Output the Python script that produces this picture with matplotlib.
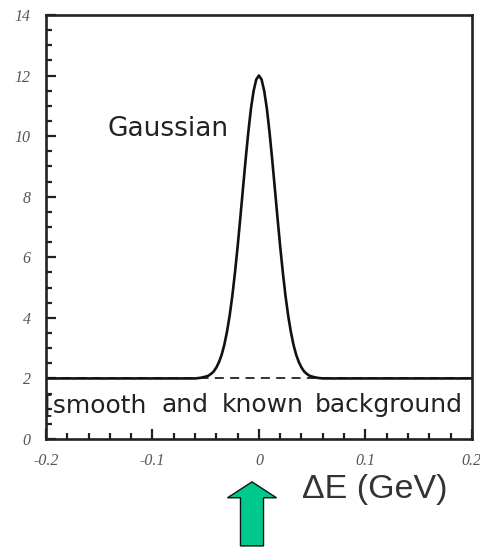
import matplotlib
matplotlib.use("Agg")
import matplotlib.pyplot as plt
from matplotlib.patches import FancyArrow
from matplotlib.ticker import MultipleLocator

# values
delta_e = [-0.2, -0.06, -0.055, -0.05, -0.0475, -0.045, -0.0425, -0.04,
           -0.0375, -0.035, -0.0325, -0.03, -0.0275, -0.025, -0.0225,
           -0.02, -0.0175, -0.015, -0.0125, -0.01, -0.0075, -0.005,
           -0.0025, 0.0, 0.0025, 0.005, 0.0075, 0.01, 0.0125, 0.015,
           0.0175, 0.02, 0.0225, 0.025, 0.0275, 0.03, 0.0325, 0.035,
           0.0375, 0.04, 0.0425, 0.045, 0.0475, 0.05, 0.055, 0.06, 0.2]
counts = [2.0, 2.0, 2.02, 2.06, 2.09, 2.15, 2.23, 2.36,
          2.54, 2.78, 3.11, 3.54, 4.07, 4.72, 5.49,
          6.35, 7.29, 8.26, 9.22, 10.12, 10.90, 11.49,
          11.87, 12.0, 11.87, 11.49, 10.90, 10.12, 9.22, 8.26,
          7.29, 6.35, 5.49, 4.72, 4.07, 3.54, 3.11, 2.78,
          2.54, 2.36, 2.23, 2.15, 2.09, 2.06, 2.02, 2.0, 2.0]
background_x = [-0.2, 0.2]
background_y = [2.0, 2.0]

xticks = [-0.2, -0.1, 0, 0.1, 0.2]
xtick_labels = ["-0.2", "-0.1", "0", "0.1", "0.2"]
yticks = [0, 2, 4, 6, 8, 10, 12, 14]

# words of the background note and where each one starts
bg_words = ["[smooth", "and", "known", "background"]
bg_word_x = [-0.2019, -0.0911, -0.0347, 0.0526]

fig = plt.figure(figsize=(4.8, 5.47), dpi=100)
ax = fig.add_axes([0.0958, 0.1974, 0.8872, 0.7752])

ax.plot(background_x, background_y, color="#222222", lw=1.3,
        ls=(0, (5, 3.5)))
ax.plot(delta_e, counts, color="#111111", lw=1.9, solid_joinstyle="round")

ax.set_xlim(-0.2, 0.2)
ax.set_ylim(0, 14)

ax.set_xticks(xticks)
ax.set_xticklabels(xtick_labels)
ax.set_yticks(yticks)
ax.set_yticklabels([str(v) for v in yticks])
ax.xaxis.set_minor_locator(MultipleLocator(0.02))
ax.yaxis.set_minor_locator(MultipleLocator(0.5))

ax.tick_params(which="both", direction="in", top=False, right=False,
               width=1.6, color="#222222")
ax.tick_params(which="major", length=7)
ax.tick_params(which="minor", length=4)
ax.tick_params(axis="y", pad=11)
ax.tick_params(axis="x", pad=10)
for lab in ax.get_xticklabels() + ax.get_yticklabels():
    lab.set_fontfamily("Liberation Serif")
    lab.set_fontstyle("italic")
    lab.set_fontsize(11.5)
    lab.set_color("#555555")

for sp in ax.spines.values():
    sp.set_linewidth(1.9)
    sp.set_color("#222222")

ax.text(-0.142, 10.25, "Gaussian", fontsize=19, color="#222222",
        family="DejaVu Sans", va="center", ha="left")
for word, wx in zip(bg_words, bg_word_x):
    ax.text(wx, 1.12, word, fontsize=18, color="#222222",
            family="DejaVu Sans", va="center", ha="left")

fig.text(0.629, 0.106, "\u0394E (GeV)", fontsize=24.5, color="#333333",
         family="Liberation Sans", va="center", ha="left")

arrow = FancyArrow(0.525, 0.002, 0, 0.117, width=0.048,
                   head_width=0.102, head_length=0.029,
                   length_includes_head=True, transform=fig.transFigure,
                   facecolor="#00c98d", edgecolor="#111111", lw=1.0)
fig.add_artist(arrow)

fig.savefig("out.png", dpi=100)
